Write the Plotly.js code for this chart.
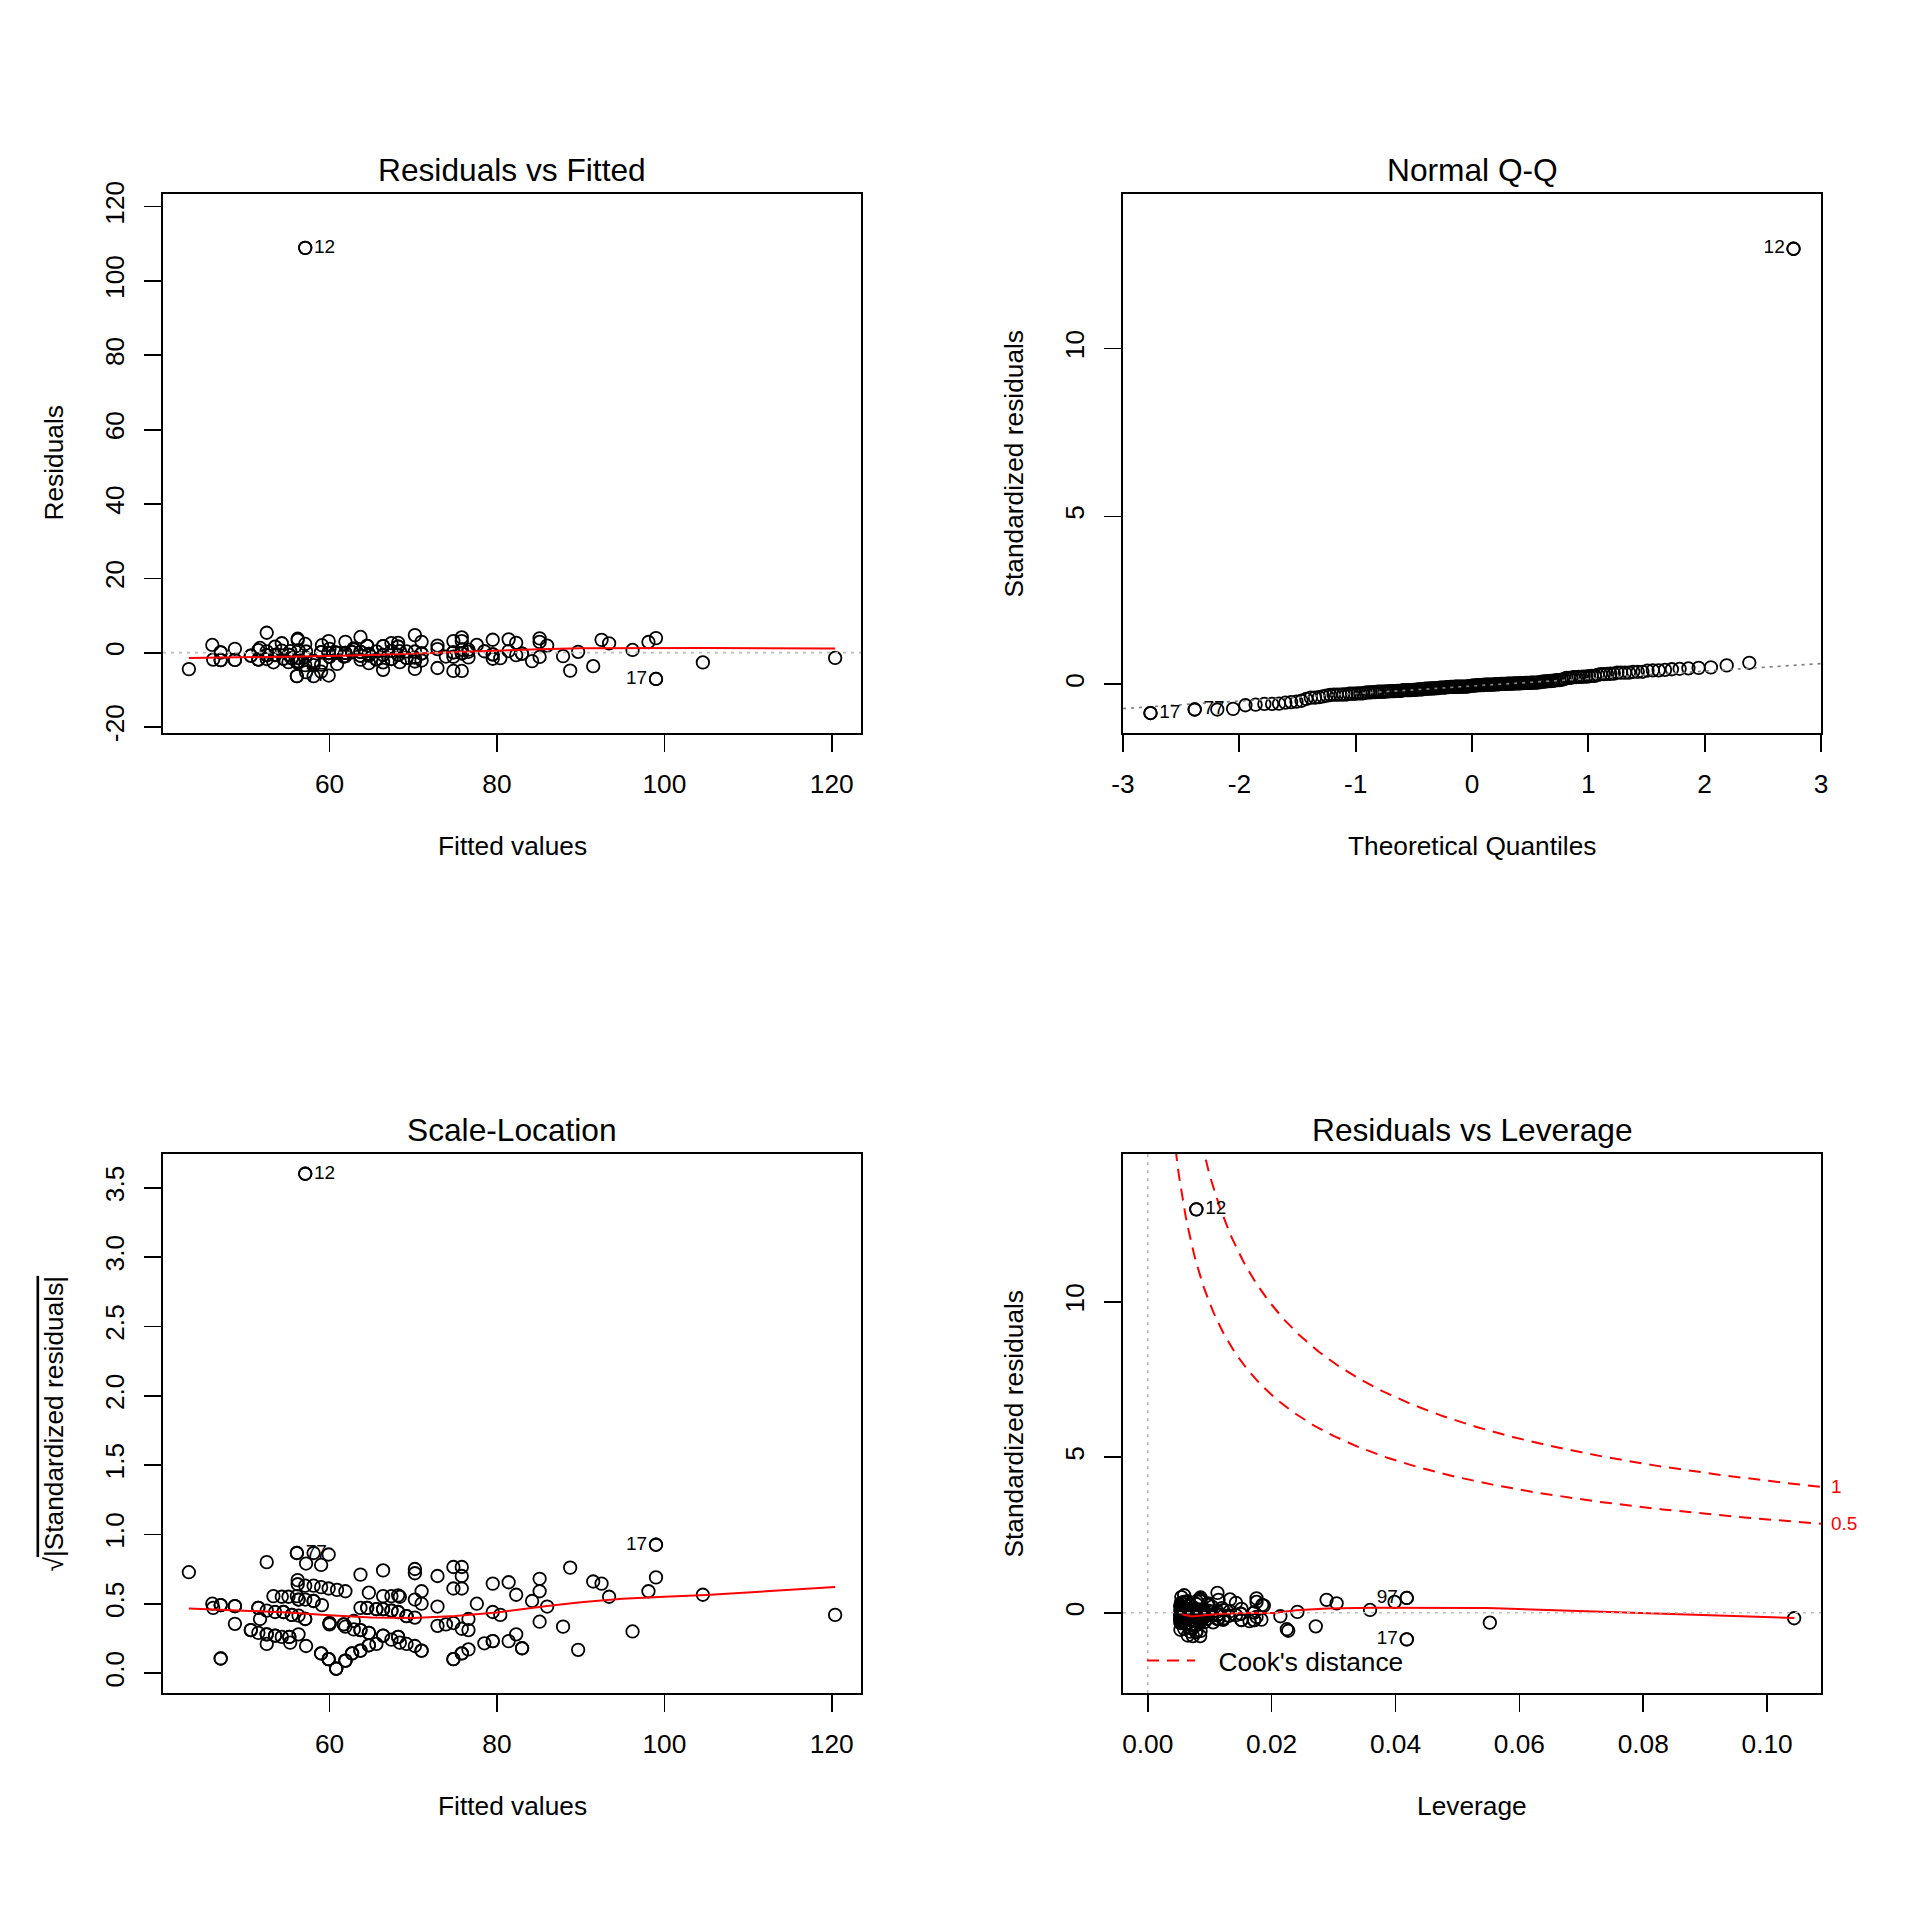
<!DOCTYPE html>
<html><head><meta charset="utf-8">
<script src="https://cdn.plot.ly/plotly-3.0.1.min.js"></script>
<style>body{margin:0;background:#fff}</style>
</head><body>
<div id="chart" style="width:1920px;height:1920px"></div>
<script>
// ---- data ----
// first four observations are the labelled ones
const obsLabels = ['12', '17', '77', '97'];
const fitted = [57.1, 99.0, 56.1, 99.0,
  43.2, 46.0, 47.0, 46.1, 47.0, 48.7, 48.7, 52.5, 51.5, 51.7,
  50.6, 51.5, 52.5, 52.5, 53.3, 52.5, 53.5, 53.5, 54.3, 54.5,
  54.3, 55.1, 55.5, 55.2, 55.3, 56.3, 56.2, 56.2, 56.1, 56.3,
  56.3, 57.2, 57.1, 57.1, 57.1, 57.2, 58.1, 58.1, 58.1, 59.0,
  59.0, 59.1, 59.9, 59.9, 60.0, 60.9, 61.9, 59.0, 59.9, 60.8,
  61.7, 61.9, 62.9, 63.7, 63.7, 64.7, 64.5, 63.7, 62.7, 63.7,
  64.7, 64.7, 65.6, 65.6, 66.4, 66.4, 66.4, 66.4, 67.4, 67.4,
  67.4, 68.2, 68.4, 68.2, 68.2, 68.4, 69.2, 69.2, 70.2, 70.2,
  70.2, 70.2, 71.0, 71.0, 70.2, 71.0, 72.9, 72.9, 72.9, 73.9,
  74.8, 75.8, 75.8, 74.8, 75.8, 74.8, 75.8, 76.6, 76.6, 74.8,
  75.8, 76.6, 77.6, 78.5, 79.5, 79.5, 79.5, 80.4, 81.4, 81.4,
  82.3, 82.3, 83.0, 84.2, 85.1, 85.1, 85.1, 86.0, 87.9, 88.75,
  89.7, 91.5, 92.5, 93.4, 96.2, 98.1, 104.6, 120.4, 61.9, 62.9,
  60.0,
  56.3, 58.1, 47.0, 48.7, 51.5, 65.6, 67.4,
  54.5, 55.5, 69.2, 57.1, 60.0, 61.7,
  50.6, 63.7, 64.7, 52.5, 53.5, 66.4, 55.2, 68.2, 79.5,
  64.7, 83.0, 71.0, 75.8, 59.9, 59.9, 61.9, 61.9, 60.8, 60.8, 74.8, 47.0, 59.0, 62.7,
  63.7, 68.2, 66.4, 64.5];
const stdResid = [12.97, -0.856, -0.750, 0.476,
  -0.529, 0.250, -0.240, -0.221, 0.011, -0.233, 0.126, 0.640, -0.221, 0.152,
  -0.096, 0.084, -0.078, 0.044, -0.308, -0.203, 0.194, -0.073, 0.303, -0.194,
  0.068, -0.303, -0.176, -0.068, 0.048, 0.078, 0.449, 0.410, -0.308, -0.172,
  -0.281, -0.624, -0.397, 0.281, -0.152, 0.038, -0.750, -0.397, -0.270, -0.608,
  -0.384, 0.240, -0.731, 0.372, -0.130, -0.360, 0.348, 0.020, -0.010, 0.001,
  -0.123, -0.008, 0.141, 0.504, -0.221, -0.336, 0.221, -0.096, 0.020, 0.026,
  -0.040, -0.084, -0.212, 0.044, -0.548, -0.308, 0.212, -0.073, 0.308, -0.203,
  0.058, 0.314, -0.303, 0.194, -0.068, 0.048, -0.168, 0.044, 0.563, -0.518,
  -0.160, 0.038, 0.348, -0.250, -0.281, -0.026, -0.490, 0.230, 0.116, -0.123,
  -0.585, -0.585, 0.490, 0.372, 0.372, -0.130, 0.102, -0.152, 0.096, 0.010,
  -0.020, 0.029, 0.250, 0.046, 0.416, -0.194, -0.053, -0.176, 0.429, 0.053,
  0.319, -0.078, -0.032, -0.270, 0.462, 0.348, -0.137, 0.230, -0.112, -0.578,
  0.028, -0.436, 0.416, 0.303, 0.090, 0.348, -0.319, -0.176, -0.112, 0.099,
  0.123,
  -0.281, -0.270, -0.240, -0.233, -0.221, -0.212, -0.203,
  -0.194, -0.176, -0.168, -0.152, -0.130, -0.123,
  -0.096, -0.096, -0.084, -0.078, -0.073, -0.073, -0.068, -0.068, -0.053,
  -0.040, -0.032, -0.026, -0.020, -0.010, -0.010, -0.008, -0.008, 0.001, 0.001, 0.010, 0.011, 0.020, 0.020,
  0.026, 0.194, 0.212, 0.221];

// model constants (simple regression, 2 parameters)
const sigma = 8.43;
const hatMin = 0.00526;
const fittedMean = 65.9;
const fittedSS = 29972;
const nParams = 2;
const cookLevels = [0.5, 1];

// red smoother lines
const smooth1Fitted = [43.2, 50, 55, 60, 65, 70, 73, 75, 80, 85, 90, 95, 100, 105, 120.4];
const smooth1Resid = [-1.45, -1.25, -1.1, -0.9, -0.6, -0.2, 0.0, 0.2, 0.65, 0.95, 1.2, 1.3, 1.35, 1.3, 1.1];
const smooth3Fitted = [43.2, 50, 55, 60, 65, 70, 75, 80, 83, 86, 90, 95, 100, 105, 120.4];
const smooth3Value = [0.466, 0.452, 0.437, 0.417, 0.400, 0.397, 0.412, 0.437, 0.462, 0.483, 0.51, 0.535, 0.55, 0.563, 0.62];
const smooth4Lev = [0.0055, 0.0071, 0.0095, 0.0122, 0.0165, 0.0203, 0.024, 0.0289, 0.0365, 0.0548, 0.1044];
const smooth4Std = [-0.05, -0.12, -0.07, -0.03, 0.0, -0.01, 0.08, 0.14, 0.16, 0.15, -0.17];

// tick values and labels (R prints a plain hyphen for minus)
const ticksFitted = [60, 80, 100, 120];
const ticksResid = [-20, 0, 20, 40, 60, 80, 100, 120];
const ticksQuant = [-3, -2, -1, 0, 1, 2, 3];
const ticksStd = [0, 5, 10];
const ticksSqrt = [0, 0.5, 1, 1.5, 2, 2.5, 3, 3.5];
const ticksLev = [0, 0.02, 0.04, 0.06, 0.08, 0.10];

// axis ranges
const range1x = [40.11, 123.49], range1y = [-21.6, 123.4];
const range2x = [-3.0, 3.0], range2y = [-1.45, 14.6];
const range3y = [-0.144, 3.744];
const range4x = [-0.0040, 0.1087], range4y = [-2.58, 14.75];

// ---- derived diagnostics (as plot.lm computes them) ----
const n = fitted.length;
const hat = fitted.map(f => hatMin + (f - fittedMean) * (f - fittedMean) / fittedSS);
const resid = stdResid.map((s, i) => s * sigma * Math.sqrt(1 - hat[i]));
const sqrtAbs = stdResid.map(s => Math.sqrt(Math.abs(s)));

function qnorm(p) {
  const a = [-3.969683028665376e+01, 2.209460984245205e+02, -2.759285104469687e+02, 1.383577518672690e+02, -3.066479806614716e+01, 2.506628277459239e+00];
  const b = [-5.447609879822406e+01, 1.615858368580409e+02, -1.556989798598866e+02, 6.680131188771972e+01, -1.328068155288572e+01];
  const c = [-7.784894002430293e-03, -3.223964580411365e-01, -2.400758277161838e+00, -2.549732539343734e+00, 4.374664141464968e+00, 2.938163982698783e+00];
  const d = [7.784695709041462e-03, 3.224671290700398e-01, 2.445134137142996e+00, 3.754408661907416e+00];
  const pl = 0.02425, ph = 1 - pl;
  let q, r;
  if (p < pl) { q = Math.sqrt(-2 * Math.log(p)); return (((((c[0]*q+c[1])*q+c[2])*q+c[3])*q+c[4])*q+c[5]) / ((((d[0]*q+d[1])*q+d[2])*q+d[3])*q+1); }
  if (p > ph) { q = Math.sqrt(-2 * Math.log(1 - p)); return -(((((c[0]*q+c[1])*q+c[2])*q+c[3])*q+c[4])*q+c[5]) / ((((d[0]*q+d[1])*q+d[2])*q+d[3])*q+1); }
  q = p - 0.5; r = q * q;
  return (((((a[0]*r+a[1])*r+a[2])*r+a[3])*r+a[4])*r+a[5])*q / (((((b[0]*r+b[1])*r+b[2])*r+b[3])*r+b[4])*r+1);
}
const order = stdResid.map((v, i) => i).sort((i, j) => stdResid[i] - stdResid[j]);
const theo = new Array(n);
order.forEach((idx, rank) => { theo[idx] = qnorm((rank + 1 - 0.5) / n); });
const sortedStd = order.map(i => stdResid[i]);
function quant7(sorted, p) { const h = (sorted.length - 1) * p, lo = Math.floor(h); return sorted[lo] + (h - lo) * (sorted[lo + 1] - sorted[lo]); }
const qy1 = quant7(sortedStd, 0.25), qy3 = quant7(sortedStd, 0.75);
const qx1 = qnorm(0.25), qx3 = qnorm(0.75);
const qqSlope = (qy3 - qy1) / (qx3 - qx1), qqInt = qy1 - qqSlope * qx1;

// Cook's distance contours
const cookH = [];
const hStart = 0.001;
for (let k = 0; k <= 400; k++) cookH.push(hStart + (range4x[1] - hStart) * k / 400);
const cookCurve = lev => cookH.map(h => Math.sqrt(lev * nParams * (1 - h) / h));

// ---- styling ----
const FONT = 'Liberation Sans, Arial, Helvetica, sans-serif';
const marker = {symbol: 'circle-open', size: 12.5, color: '#000', line: {width: 1.8, color: '#000'}};
const red = '#FF0000';
const idFont = {family: FONT, size: 19, color: '#000'};
const pick = (arr, idx) => idx.map(i => arr[i]);

const traces = [];
// Panel 1: Residuals vs Fitted
traces.push({x: fitted, y: resid, mode: 'markers', marker, xaxis: 'x', yaxis: 'y', showlegend: false, hoverinfo: 'skip'});
traces.push({x: smooth1Fitted, y: smooth1Resid, mode: 'lines', line: {color: red, width: 2}, xaxis: 'x', yaxis: 'y', showlegend: false});
const lab1 = [0, 1, 2];
traces.push({x: pick(fitted, lab1), y: pick(resid, lab1), mode: 'markers+text', marker, text: pick(obsLabels, lab1),
  textposition: ['middle right', 'middle left', 'middle right'], textfont: idFont, xaxis: 'x', yaxis: 'y', showlegend: false, cliponaxis: false});
// Panel 2: Normal Q-Q
traces.push({x: theo, y: stdResid, mode: 'markers', marker, xaxis: 'x2', yaxis: 'y2', showlegend: false, hoverinfo: 'skip'});
traces.push({x: range2x, y: range2x.map(v => qqInt + qqSlope * v), mode: 'lines', line: {color: '#7F7F7F', width: 1.7, dash: '3px,5px'}, xaxis: 'x2', yaxis: 'y2', showlegend: false});
traces.push({x: pick(theo, lab1), y: pick(stdResid, lab1), mode: 'markers+text', marker, text: pick(obsLabels, lab1),
  textposition: ['middle left', 'middle right', 'middle right'], textfont: idFont, xaxis: 'x2', yaxis: 'y2', showlegend: false, cliponaxis: false});
// Panel 3: Scale-Location
traces.push({x: fitted, y: sqrtAbs, mode: 'markers', marker, xaxis: 'x3', yaxis: 'y3', showlegend: false, hoverinfo: 'skip'});
traces.push({x: smooth3Fitted, y: smooth3Value, mode: 'lines', line: {color: red, width: 2}, xaxis: 'x3', yaxis: 'y3', showlegend: false});
traces.push({x: pick(fitted, lab1), y: pick(sqrtAbs, lab1), mode: 'markers+text', marker, text: pick(obsLabels, lab1),
  textposition: ['middle right', 'middle left', 'middle right'], textfont: idFont, xaxis: 'x3', yaxis: 'y3', showlegend: false, cliponaxis: false});
// Panel 4: Residuals vs Leverage
traces.push({x: hat, y: stdResid, mode: 'markers', marker, xaxis: 'x4', yaxis: 'y4', showlegend: false, hoverinfo: 'skip'});
traces.push({x: smooth4Lev, y: smooth4Std, mode: 'lines', line: {color: red, width: 2}, xaxis: 'x4', yaxis: 'y4', showlegend: false});
cookLevels.forEach((lev, k) => {
  traces.push({x: cookH, y: cookCurve(lev), mode: 'lines', name: "\u2002\u2009Cook's distance", legendgroup: 'cook',
    showlegend: k === 0, line: {color: red, width: 2, dash: '12px,8px'}, xaxis: 'x4', yaxis: 'y4'});
});
const lab4 = [0, 1, 3];
traces.push({x: pick(hat, lab4), y: pick(stdResid, lab4), mode: 'markers+text', marker, text: pick(obsLabels, lab4),
  textposition: ['middle right', 'middle left', 'middle left'], textfont: idFont, xaxis: 'x4', yaxis: 'y4', showlegend: false, cliponaxis: false});

// ---- layout ----
const W = 1920, H = 1920;
const px = v => v / W, py = v => 1 - v / H;
const colL = [px(163), px(861)], colR = [px(1123), px(1821)];
const rowT = [py(733), py(194)], rowB = [py(1693), py(1154)];
const tickFont = {family: FONT, size: 26.3, color: '#000'};
function ax(domain, range, tickvals, ticktext, extra) {
  return Object.assign({domain, range, tickvals, ticktext, showgrid: false, zeroline: false, showline: true, mirror: true,
    linecolor: '#000', linewidth: 1.7, ticks: 'outside', ticklen: 17, tickwidth: 1.7, tickcolor: '#000',
    tickfont: tickFont, fixedrange: true, ticklabelstandoff: 10}, extra || {});
}
const yExtra = {tickangle: -90, ticklabelstandoff: 10};
const fmt = (arr, d) => arr.map(v => v.toFixed(d));
const layout = {
  width: W, height: H, margin: {l: 0, r: 0, t: 0, b: 0}, paper_bgcolor: '#fff', plot_bgcolor: '#fff',
  font: {family: FONT, color: '#000'},
  showlegend: true,
  legend: {x: px(1142), y: py(1661), xanchor: 'left', yanchor: 'middle', bgcolor: 'rgba(0,0,0,0)', borderwidth: 0,
    font: {family: FONT, size: 26.3, color: '#000'}, itemwidth: 48},
  xaxis: ax(colL, range1x, ticksFitted, fmt(ticksFitted, 0), {anchor: 'y'}),
  yaxis: ax(rowT, range1y, ticksResid, fmt(ticksResid, 0), Object.assign({anchor: 'x'}, yExtra)),
  xaxis2: ax(colR, range2x, ticksQuant, fmt(ticksQuant, 0), {anchor: 'y2'}),
  yaxis2: ax(rowT, range2y, ticksStd, fmt(ticksStd, 0), Object.assign({anchor: 'x2'}, yExtra)),
  xaxis3: ax(colL, range1x, ticksFitted, fmt(ticksFitted, 0), {anchor: 'y3'}),
  yaxis3: ax(rowB, range3y, ticksSqrt, fmt(ticksSqrt, 1), Object.assign({anchor: 'x3'}, yExtra)),
  xaxis4: ax(colR, range4x, ticksLev, fmt(ticksLev, 2), {anchor: 'y4'}),
  yaxis4: ax(rowB, range4y, ticksStd, fmt(ticksStd, 0), Object.assign({anchor: 'x4'}, yExtra)),
  shapes: [
    {type: 'line', xref: 'x domain', yref: 'y', x0: 0, x1: 1, y0: 0, y1: 0, line: {color: '#BEBEBE', width: 1.7, dash: '3px,5px'}},
    {type: 'line', xref: 'x4 domain', yref: 'y4', x0: 0, x1: 1, y0: 0, y1: 0, line: {color: '#BEBEBE', width: 1.7, dash: '3px,5px'}},
    {type: 'line', xref: 'x4', yref: 'y4 domain', x0: 0, x1: 0, y0: 0, y1: 1, line: {color: '#BEBEBE', width: 1.7, dash: '3px,5px'}}
  ],
  annotations: []
};
const ann = layout.annotations;
const titleFont = {family: FONT, size: 31.7, color: '#000'};
const labFont = {family: FONT, size: 26.3, color: '#000'};
function addText(text, x, y, font, angle) {
  ann.push({text, x, y, xref: 'paper', yref: 'paper', xanchor: 'center', yanchor: 'middle', showarrow: false, font, textangle: angle || 0});
}
// titles
addText('Residuals vs Fitted', px(512), py(170), titleFont);
addText('Normal Q-Q', px(1472), py(170), titleFont);
addText('Scale-Location', px(512), py(1130), titleFont);
addText('Residuals vs Leverage', px(1472), py(1130), titleFont);
// axis titles
addText('Fitted values', px(512), py(846), labFont);
addText('Theoretical Quantiles', px(1472), py(846), labFont);
addText('Fitted values', px(512), py(1806), labFont);
addText('Leverage', px(1472), py(1806), labFont);
addText('Residuals', px(53), py(463.5), labFont, -90);
addText('Standardized residuals', px(1013), py(463.5), labFont, -90);
addText('√<span style="text-decoration:overline">|Standardized residuals|</span>', px(53), py(1423.5), labFont, -90);
addText('Standardized residuals', px(1013), py(1423.5), labFont, -90);
// Cook's contour labels on the right margin
cookLevels.forEach(lev => {
  ann.push({text: String(lev), x: px(1829), xref: 'paper', xanchor: 'left',
    y: Math.sqrt(lev * nParams * (1 - range4x[1]) / range4x[1]), yref: 'y4', yanchor: 'middle',
    showarrow: false, font: {family: FONT, size: 19, color: red}});
});

Plotly.newPlot('chart', traces, layout, {staticPlot: true, displayModeBar: false});
</script>
</body></html>
